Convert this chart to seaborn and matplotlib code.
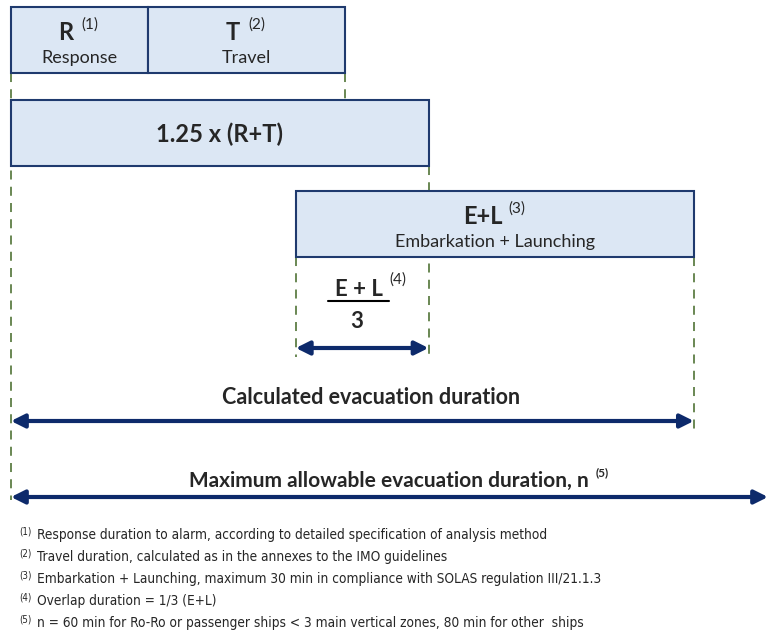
"""Evacuation duration timeline diagram"""
import matplotlib
matplotlib.use("Agg")
import matplotlib.pyplot as plt
import seaborn as sns

# durations (diagram units)
R = 137
T = 197
EL = 398
n_max = 757
x0 = 11

overlap = EL / 3
rt_scaled = 1.25 * (R + T)
el_start = x0 + rt_scaled - overlap
calc_end = x0 + rt_scaled + 2 * EL / 3

footnotes = [
    "Response duration to alarm, according to detailed specification of analysis method",
    "Travel duration, calculated as in the annexes to the IMO guidelines",
    "Embarkation + Launching, maximum 30 min in compliance with SOLAS regulation III/21.1.3",
    "Overlap duration = 1/3 (E+L)",
    "n = 60 min for Ro-Ro or passenger ships < 3 main vertical zones, 80 min for other  ships",
]

FILL = "#dce7f4"
EDGE = "#1f3a6e"
ARROW = "#0d2a6b"
DASH = "#5e7e45"

sns.set_theme(style="white")
plt.rcParams["font.family"] = ["Lato", "DejaVu Sans"]

fig = plt.figure(figsize=(7.68, 6.37), dpi=100)
ax = fig.add_axes([0, 0, 1, 1])
ax.set_xlim(0, 768)
ax.set_ylim(637, 0)
ax.axis("off")

# boxes
box_h = 66
ax.barh([40, 40], [R, T], left=[x0, x0 + R], height=box_h, color=FILL,
        edgecolor=EDGE, linewidth=1.5, zorder=2)
ax.barh([133], [rt_scaled], left=[x0], height=box_h, color=FILL,
        edgecolor=EDGE, linewidth=1.5, zorder=2)
ax.barh([224], [EL], left=[el_start], height=box_h, color=FILL,
        edgecolor=EDGE, linewidth=1.5, zorder=2)

# dashed guides
dash_kw = dict(color=DASH, linestyle=(0, (5, 4)), linewidth=1.3, zorder=1)
ax.plot([x0, x0], [73, 500], **dash_kw)
ax.plot([x0 + R + T] * 2, [73, 100], **dash_kw)
ax.plot([x0 + rt_scaled] * 2, [166, 357], **dash_kw)
ax.plot([el_start] * 2, [257, 357], **dash_kw)
ax.plot([el_start + EL] * 2, [257, 432], **dash_kw)

# box labels
rc = x0 + R / 2
tc = x0 + R + T / 2
ec = el_start + EL / 2
ax.text(rc - 14, 32, "R", ha="center", va="center", fontsize=17, fontweight="bold")
ax.text(rc + 10, 25, "(1)", ha="center", va="center", fontsize=11)
ax.text(rc, 58, "Response", ha="center", va="center", fontsize=13)
ax.text(tc - 14, 32, "T", ha="center", va="center", fontsize=17, fontweight="bold")
ax.text(tc + 10, 25, "(2)", ha="center", va="center", fontsize=11)
ax.text(tc, 58, "Travel", ha="center", va="center", fontsize=13)
ax.text(x0 + rt_scaled / 2, 134, "1.25 x (R+T)", ha="center", va="center",
        fontsize=17, fontweight="bold")
ax.text(ec - 12, 216, "E+L", ha="center", va="center", fontsize=17,
        fontweight="bold")
ax.text(ec + 22, 209, "(3)", ha="center", va="center", fontsize=11)
ax.text(ec, 242, "Embarkation + Launching", ha="center", va="center",
        fontsize=13)

# fraction
fx = el_start + overlap / 2
ax.text(fx - 3, 290, "E + L", ha="center", va="center", fontsize=16, fontweight="bold")
ax.text(fx + 36, 280, "(4)", ha="center", va="center", fontsize=11)
ax.plot([fx - 34, fx + 27], [301, 301], color="black", linewidth=1.5)
ax.text(fx - 5, 322, "3", ha="center", va="center", fontsize=16, fontweight="bold")

# arrows
arrow_kw = dict(arrowstyle="<|-|>", color=ARROW, lw=3, mutation_scale=20,
                shrinkA=0, shrinkB=0)
ax.annotate("", xy=(el_start, 348), xytext=(x0 + rt_scaled, 348), arrowprops=arrow_kw)
ax.annotate("", xy=(x0, 421), xytext=(calc_end, 421), arrowprops=arrow_kw)
ax.annotate("", xy=(x0, 497), xytext=(x0 + n_max, 497), arrowprops=arrow_kw)

ax.text(371, 397, "Calculated evacuation duration",
        ha="center", va="center", fontsize=15.5, fontweight="bold")
ax.text(389, 481, "Maximum allowable evacuation duration, n", ha="center", va="center",
        fontsize=15, fontweight="bold")
ax.text(602, 473, "(5)", ha="center", va="center", fontsize=8.5, fontweight="bold")

# footnotes
for i, note in enumerate(footnotes):
    y = 535 + i * 22
    ax.text(19, y - 4, f"({i + 1})", ha="left", va="center", fontsize=7,
            family="DejaVu Sans", stretch="condensed")
    ax.text(37, y, note, ha="left", va="center", fontsize=9.8,
            family="DejaVu Sans", stretch="condensed")

fig.savefig("out.png", dpi=100)
